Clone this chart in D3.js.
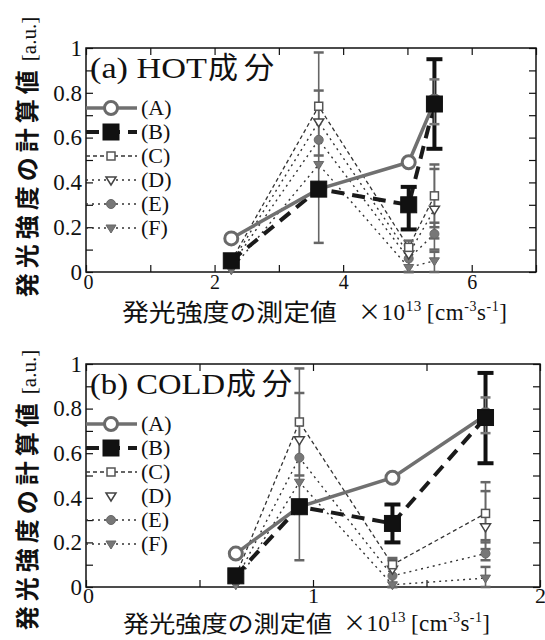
<!DOCTYPE html>
<html>
<head>
<meta charset="utf-8">
<script src="https://cdn.jsdelivr.net/npm/d3@7"></script>
<style>
  body { margin: 0; background: #fff; }
  svg { display: block; }
  .serif { font-family: "Liberation Serif", "DejaVu Serif", serif; }
  .jp { font-family: "Noto Sans CJK JP", sans-serif; }
</style>
</head>
<body>
<svg id="chart" width="545" height="640"></svg>
<script>
"use strict";

// (a) HOT component
const hotX = [2.26, 3.62, 5.02, 5.42];
const hotA = [0.15, 0.37, 0.49, 0.76];
const hotB = [0.05, 0.37, 0.30, 0.75];
const hotC = [0.05, 0.74, 0.11, 0.34];
const hotD = [0.04, 0.67, 0.08, 0.28];
const hotE = [0.03, 0.59, 0.06, 0.17];
const hotF = [0.01, 0.48, 0.02, 0.05];
// error bars: [x, low, high]
const hotErrA = [[5.42, 0.66, 0.86]];
const hotErrB = [[5.02, 0.19, 0.38], [5.42, 0.55, 0.95]];
const hotErrC = [[3.62, 0.13, 0.98], [5.02, 0.0, 0.14], [5.42, 0.20, 0.48]];
const hotErrD = [[3.62, 0.52, 0.81], [5.02, 0.0, 0.12], [5.42, 0.15, 0.46]];
const hotErrE = [[5.42, 0.10, 0.22]];
const hotErrF = [[5.42, 0.0, 0.09]];

// (b) COLD component
const coldX = [0.66, 0.94, 1.35, 1.76];
const coldA = [0.15, 0.36, 0.49, 0.77];
const coldB = [0.05, 0.36, 0.285, 0.76];
const coldC = [0.05, 0.74, 0.10, 0.33];
const coldD = [0.04, 0.66, 0.08, 0.27];
const coldE = [0.03, 0.58, 0.05, 0.15];
const coldF = [0.01, 0.47, 0.01, 0.04];
const coldErrA = [[1.76, 0.69, 0.85]];
const coldErrB = [[1.35, 0.20, 0.37], [1.76, 0.555, 0.96]];
const coldErrC = [[0.94, 0.12, 0.98], [1.35, 0.0, 0.13], [1.76, 0.21, 0.47]];
const coldErrD = [[0.94, 0.50, 0.87], [1.35, 0.0, 0.12], [1.76, 0.17, 0.43]];
const coldErrE = [[1.76, 0.12, 0.20]];
const coldErrF = [[1.76, 0.0, 0.09]];

const seriesNames = ["(A)", "(B)", "(C)", "(D)", "(E)", "(F)"];
const yTicks = [0, 0.1, 0.2, 0.3, 0.4, 0.5, 0.6, 0.7, 0.8, 0.9, 1];
const yTickLabels = [0, 0.2, 0.4, 0.6, 0.8, 1];
const hotXTicks = [0, 1, 2, 3, 4, 5, 6, 7];
const hotXLabels = [0, 2, 4, 6];
const coldXTicks = [0, 0.5, 1, 1.5, 2];
const coldXLabels = [0, 1, 2];

// look of each series (A..F)
const styles = [
  { line: "#707070", width: 3.5, dash: null, marker: "circle", r: 6.5, fill: "#fff", stroke: "#6a6a6a", sw: 3 },
  { line: "#1a1a1a", width: 4, dash: "13,8", marker: "square", r: 8, fill: "#111", stroke: "#111", sw: 1 },
  { line: "#333", width: 1.3, dash: "4,3", marker: "square", r: 4, fill: "#fff", stroke: "#555", sw: 1.5 },
  { line: "#333", width: 1.4, dash: "2,4", marker: "tri", r: 5, fill: "#fff", stroke: "#444", sw: 1.5 },
  { line: "#333", width: 1.4, dash: "2,4", marker: "circle", r: 4.5, fill: "#777", stroke: "#666", sw: 1 },
  { line: "#333", width: 1.4, dash: "2,4", marker: "tri", r: 5, fill: "#777", stroke: "#666", sw: 1 },
];

const svg = d3.select("#chart");

function drawPanel(p) {
  const x = d3.scaleLinear().domain(p.xDomain).range([p.left, p.right]);
  const y = d3.scaleLinear().domain([0, 1]).range([p.bottom, p.top]);
  const g = svg.append("g");

  // frame
  g.append("rect")
    .attr("x", p.left).attr("y", p.top)
    .attr("width", p.right - p.left).attr("height", p.bottom - p.top)
    .attr("fill", "none").attr("stroke", "#111").attr("stroke-width", 1.5);

  // axes, ticks pointing inward
  const yl = g.append("g").attr("transform", `translate(${p.left},0)`)
    .call(d3.axisLeft(y).tickValues(yTicks).tickSize(-7).tickPadding(4)
      .tickFormat(d => yTickLabels.some(v => Math.abs(v - d) < 1e-6) ? d3.format("~g")(d) : ""));
  g.append("g").attr("transform", `translate(${p.right},0)`)
    .call(d3.axisRight(y).tickValues(yTicks).tickSize(-7).tickFormat(""));
  g.append("g").attr("transform", `translate(0,${p.top})`)
    .call(d3.axisTop(x).tickValues(p.xTicks).tickSize(-7).tickFormat(""));
  const xl = g.append("g").attr("transform", `translate(0,${p.bottom})`)
    .call(d3.axisBottom(x).tickValues(p.xTicks).tickSize(-7)
      .tickFormat(d => p.xLabels.includes(d) ? d3.format("~g")(d) : ""));
  g.selectAll(".domain").remove();
  g.selectAll(".tick line").attr("stroke", "#111").attr("stroke-width", 1.2);
  yl.selectAll("text").attr("class", "serif").attr("font-size", 23).attr("fill", "#111")
    .attr("font-family", null);
  xl.selectAll("text").attr("class", "serif").attr("font-size", p.xFont).attr("fill", "#111")
    .attr("font-family", null).attr("y", p.xLabelY)
    .attr("dx", d => d === 0 ? 2 : 0);

  // connecting lines, back to front
  for (let i = 5; i >= 0; i--) {
    const st = styles[i];
    if (p.noLine.includes(i)) continue;
    const pts = p.xs.map((v, k) => [v, p.series[i][k]]);
    g.append("path")
      .attr("d", d3.line().x(d => x(d[0])).y(d => y(d[1]))(pts))
      .attr("fill", "none").attr("stroke", st.line)
      .attr("stroke-width", st.width)
      .attr("stroke-dasharray", st.dash);
  }

  // error bars
  for (let i = 5; i >= 0; i--) {
    const thick = i === 1;
    const col = i === 0 ? "#777" : (thick ? "#111" : "#666");
    const w = thick ? 4 : 1.6;
    const cw = thick ? 8 : 5;
    p.errors[i].forEach(e => {
      const eg = g.append("g");
      eg.append("line").attr("x1", x(e[0])).attr("x2", x(e[0]))
        .attr("y1", y(e[1])).attr("y2", y(e[2]))
        .attr("stroke", col).attr("stroke-width", w);
      [e[1], e[2]].forEach(v => {
        eg.append("line").attr("x1", x(e[0]) - cw).attr("x2", x(e[0]) + cw)
          .attr("y1", y(v)).attr("y2", y(v))
          .attr("stroke", col).attr("stroke-width", thick ? 4 : 2.5);
      });
    });
  }

  // markers C..F, then A, then B on top
  [5, 4, 3, 2, 0, 1].forEach(i => {
    const pts = p.xs.map((v, k) => [v, p.series[i][k]]);
    g.selectAll(null).data(pts).enter().append("g")
      .each(function (d) { drawMarker(d3.select(this), x(d[0]), y(d[1]), styles[i]); });
  });

  // legend
  seriesNames.forEach((name, i) => {
    const st = styles[i];
    const ly = p.top + 60 + i * 24;
    if (!p.noLegendLine.includes(i)) {
      g.append("line").attr("x1", p.left).attr("x2", p.left + 51)
        .attr("y1", ly).attr("y2", ly)
        .attr("stroke", st.line).attr("stroke-width", st.width)
        .attr("stroke-dasharray", st.dash);
    }
    drawMarker(g.append("g"), p.left + 25, ly, st);
    g.append("text").attr("class", "serif").attr("x", p.left + 55).attr("y", ly + 7)
      .attr("font-size", 22).attr("fill", "#111").text(name);
  });

  // panel title
  g.append("text").attr("class", "serif").attr("x", p.left + 4).attr("y", p.top + 30)
    .attr("font-size", 30).attr("fill", "#111")
    .attr("textLength", p.titleLen).attr("lengthAdjust", "spacingAndGlyphs")
    .text(p.title);
  g.append("text").attr("class", "jp").attr("x", p.left + 5 + p.titleLen).attr("y", p.top + 30)
    .attr("font-size", 30).attr("fill", "#111").attr("letter-spacing", 6).text("成分");

  // x axis title
  g.append("text").attr("class", "jp").attr("x", p.xTitleX).attr("y", p.xTitleY)
    .attr("font-size", p.xTitleFont).attr("fill", "#111")
    .attr("textLength", p.xTitleLen).attr("lengthAdjust", "spacingAndGlyphs")
    .text("発光強度の測定値");
  const xt = g.append("text").attr("class", "serif")
    .attr("x", p.xTitleX + p.xTitleLen + p.xTitleGap).attr("y", p.xTitleY - 1)
    .attr("fill", "#111").attr("textLength", p.unitLen).attr("lengthAdjust", "spacing");
  xt.append("tspan").attr("class", "jp").attr("font-size", 23).text("×");
  xt.append("tspan").attr("font-size", 23).text("10");
  xt.append("tspan").attr("font-size", 15).attr("dy", -9).text("13");
  xt.append("tspan").attr("font-size", 23).attr("dy", 9).attr("dx", 5).text("[cm");
  xt.append("tspan").attr("font-size", 14).attr("dy", -9).text("-3");
  xt.append("tspan").attr("font-size", 23).attr("dy", 9).text("s");
  xt.append("tspan").attr("font-size", 14).attr("dy", -9).text("-1");
  xt.append("tspan").attr("font-size", 23).attr("dy", 9).text("]");

  // y axis title
  const yt = g.append("text")
    .attr("transform", `translate(36,${p.yTitleMid}) rotate(-90)`)
    .attr("text-anchor", "middle").attr("fill", "#111");
  yt.append("tspan").attr("class", "jp").attr("font-size", 24).attr("font-weight", 700)
    .attr("letter-spacing", 5).text("発光強度の計算値");
  yt.append("tspan").attr("class", "serif").attr("font-size", 21).attr("dx", 4).text("[a.u.]");
}

function drawMarker(sel, cx, cy, st) {
  if (st.marker === "circle") {
    sel.append("circle").attr("cx", cx).attr("cy", cy).attr("r", st.r)
      .attr("fill", st.fill).attr("stroke", st.stroke).attr("stroke-width", st.sw);
  } else if (st.marker === "square") {
    sel.append("rect").attr("x", cx - st.r).attr("y", cy - st.r)
      .attr("width", st.r * 2).attr("height", st.r * 2)
      .attr("fill", st.fill).attr("stroke", st.stroke).attr("stroke-width", st.sw);
  } else {
    const r = st.r;
    sel.append("path")
      .attr("d", `M${cx - r},${cy - r * 0.6}L${cx + r},${cy - r * 0.6}L${cx},${cy + r}Z`)
      .attr("fill", st.fill).attr("stroke", st.stroke).attr("stroke-width", st.sw);
  }
}

drawPanel({
  xDomain: [0, 7], left: 86, right: 536, top: 48, bottom: 272,
  xTicks: hotXTicks, xLabels: hotXLabels, xFont: 20, xLabelY: 3,
  xs: hotX, series: [hotA, hotB, hotC, hotD, hotE, hotF],
  errors: [hotErrA, hotErrB, hotErrC, hotErrD, hotErrE, hotErrF],
  noLine: [], noLegendLine: [],
  title: "(a) HOT", titleLen: 117,
  xTitleX: 122, xTitleLen: 215, xTitleGap: 21, unitLen: 149, xTitleY: 321, xTitleFont: 24,
  yTitleMid: 157,
});

drawPanel({
  xDomain: [0, 2], left: 86, right: 540, top: 364, bottom: 587,
  xTicks: coldXTicks, xLabels: coldXLabels, xFont: 22, xLabelY: 0,
  xs: coldX, series: [coldA, coldB, coldC, coldD, coldE, coldF],
  errors: [coldErrA, coldErrB, coldErrC, coldErrD, coldErrE, coldErrF],
  noLine: [3], noLegendLine: [3],
  title: "(b) COLD", titleLen: 135,
  xTitleX: 123, xTitleLen: 209, xTitleGap: 11, unitLen: 147, xTitleY: 632, xTitleFont: 23,
  yTitleMid: 490,
});
</script>
</body>
</html>
